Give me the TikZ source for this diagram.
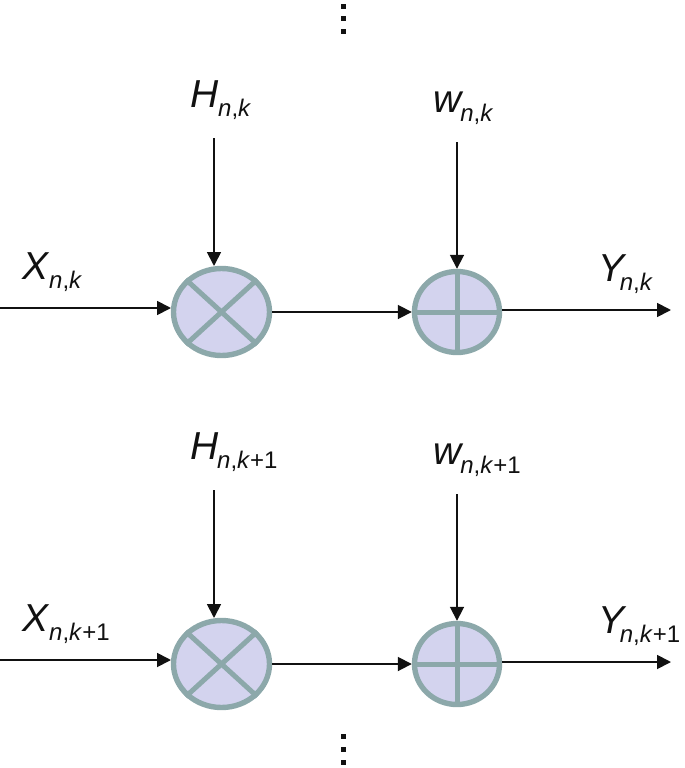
\documentclass[tikz,border=0pt]{standalone}
\usepackage{fontspec}
\setmainfont{Liberation Sans}
\usetikzlibrary{shapes.geometric,arrows.meta}
\definecolor{ring}{HTML}{8CA8AA}
\definecolor{disc}{HTML}{D3D3EE}
\definecolor{ink}{HTML}{111111}
\newcommand{\lab}[3][0pt]{\fontsize{39}{39}\selectfont\textit{#2}\kern#1\raisebox{-9pt}{\fontsize{24}{24}\selectfont #3}}
\newcommand{\nk}{\textit{n},\textit{k}}
\newcommand{\nkk}{\textit{n},\textit{k}+1}
\tikzset{
  x=1pt,y=-1pt,
  mult/.style={ellipse,draw=ring,fill=disc,line width=5.4pt,inner sep=0pt,minimum width=96pt,minimum height=87pt},
  addr/.style={ellipse,draw=ring,fill=disc,line width=5.4pt,inner sep=0pt,minimum width=85pt,minimum height=81pt},
  spoke/.style={draw=ring,line width=5pt},
  conn/.style={draw=ink,line width=1.8pt,-{Triangle[length=14pt,width=14pt]}},
  lbl/.style={anchor=base west,inner sep=0pt,outer sep=0pt,text=ink},
  dot/.style={fill=ink,inner sep=0pt,minimum size=5pt}
}
\begin{document}
\begin{tikzpicture}
\useasboundingbox (0,0) rectangle (685,768);
% nodes
\node[mult] (m1) at (221.5,312) {};
\node[addr] (a1) at (457,312) {};
\node[mult] (m2) at (221.5,664) {};
\node[addr] (a2) at (457,664) {};
% spokes
\foreach \m in {m1,m2}{
  \draw[spoke] (\m.north west) -- (\m.south east);
  \draw[spoke] (\m.north east) -- (\m.south west);
}
\foreach \a in {a1,a2}{
  \draw[spoke] (\a.north) -- (\a.south);
  \draw[spoke] (\a.west) -- (\a.east);
}
% labels
\node[lbl] (H1) at (190,107) {\lab{H}{\nk}};
\node[lbl] (W1) at (433,112) {\lab[-3pt]{w}{\nk}};
\node[lbl] (X1) at (22,279) {\lab{X}{\nk}};
\node[lbl] (Y1) at (598,281) {\lab[-6.5pt]{Y}{\nk}};
\node[lbl] (H2) at (190,459) {\lab[-1pt]{H}{\nkk}};
\node[lbl] (W2) at (433,464) {\lab[-3pt]{w}{\nkk}};
\node[lbl] (X2) at (22,631) {\lab{X}{\nkk}};
\node[lbl] (Y2) at (598,633) {\lab[-6.5pt]{Y}{\nkk}};
% free ends
\coordinate (h1s) at (214,138);
\coordinate (h1e) at (214,266);
\coordinate (w1s) at (457,142);
\coordinate (x1s) at (0,308);
\coordinate (x1e) at (171,308);
\coordinate (y1s) at (502,310);
\coordinate (y1e) at (671,310);
\coordinate (h2s) at (214,490);
\coordinate (h2e) at (214,618);
\coordinate (w2s) at (457,494);
\coordinate (x2s) at (0,660);
\coordinate (x2e) at (171,660);
\coordinate (y2s) at (502,662);
\coordinate (y2e) at (671,662);
% connectors
\draw[conn] (h1s) -- (h1e);
\draw[conn] (w1s) -- (a1.north);
\draw[conn] (x1s) -- (x1e);
\draw[conn] (m1.east) -- (a1.west);
\draw[conn] (y1s) -- (y1e);
\draw[conn] (h2s) -- (h2e);
\draw[conn] (w2s) -- (a2.north);
\draw[conn] (x2s) -- (x2e);
\draw[conn] (m2.east) -- (a2.west);
\draw[conn] (y2s) -- (y2e);
% dots
\foreach \n/\y in {t1/7,t2/19,t3/32,b1/736,b2/749,b3/762}{
  \node[dot] (\n) at (343,\y) {};
}
\end{tikzpicture}
\end{document}
